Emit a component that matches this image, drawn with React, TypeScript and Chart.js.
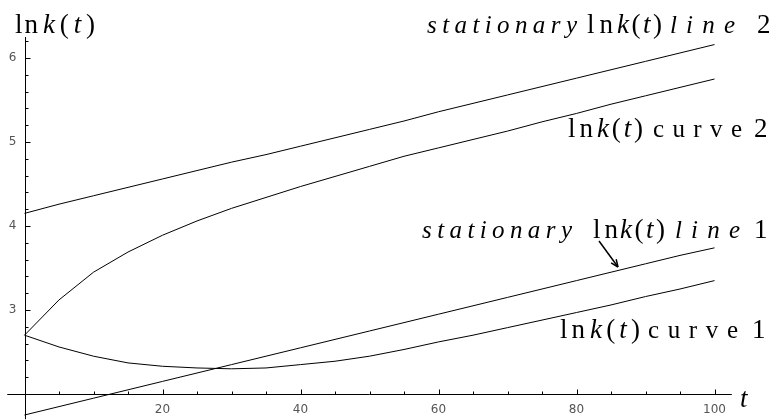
import React, { useEffect, useRef } from "react";
import { Chart, registerables } from "chart.js";

Chart.register(...registerables);

// ---- data ----
const tValues = [0, 5, 10, 15, 20, 25, 30, 35, 40, 45, 50, 55, 60, 65, 70, 75, 80, 85, 90, 95, 100];
const stationaryLine2 = [4.15, 4.26, 4.36, 4.46, 4.56, 4.66, 4.76, 4.85, 4.95, 5.05, 5.15, 5.25, 5.36, 5.46, 5.56, 5.66, 5.76, 5.86, 5.96, 6.06, 6.16];
const curve2 = [2.7, 3.12, 3.45, 3.69, 3.89, 4.06, 4.21, 4.34, 4.47, 4.59, 4.71, 4.83, 4.93, 5.03, 5.13, 5.24, 5.34, 5.45, 5.55, 5.65, 5.75];
const stationaryLine1 = [1.75, 1.85, 1.95, 2.05, 2.15, 2.25, 2.35, 2.45, 2.55, 2.65, 2.75, 2.85, 2.95, 3.05, 3.15, 3.25, 3.35, 3.45, 3.55, 3.65, 3.74];
const curve1 = [2.7, 2.56, 2.45, 2.37, 2.33, 2.31, 2.3, 2.31, 2.35, 2.39, 2.45, 2.53, 2.62, 2.7, 2.79, 2.88, 2.97, 3.06, 3.16, 3.25, 3.35];

const xMajorTicks = [20, 40, 60, 80, 100];
const xMinorTicks = [5, 10, 15, 25, 30, 35, 45, 50, 55, 65, 70, 75, 85, 90, 95];
const yMajorTicks = [3, 4, 5, 6];
const yMinorTicks = [2.2, 2.4, 2.6, 2.8, 3.2, 3.4, 3.6, 3.8, 4.2, 4.4, 4.6, 4.8, 5.2, 5.4, 5.6, 5.8, 6.2];

const SERIF = '"Liberation Serif", "Times New Roman", serif';
const UP = `27px ${SERIF}`;
const IT = `italic 27px ${SERIF}`;
const IT_WORD = `italic 25px ${SERIF}`;
const UP_WORD = `25px ${SERIF}`;

type Part = { t: string; f: string };

function drawParts(ctx: CanvasRenderingContext2D, parts: Part[], x0: number, x1: number, baseline: number) {
  const chars: Part[] = [];
  parts.forEach((p) => {
    for (const ch of p.t) chars.push({ t: ch, f: p.f });
  });
  let natural = 0;
  const widths = chars.map((c) => {
    ctx.font = c.f;
    const w = ctx.measureText(c.t).width;
    natural += w;
    return w;
  });
  const sp = chars.length > 1 ? (x1 - x0 - natural) / (chars.length - 1) : 0;
  let x = x0;
  chars.forEach((c, i) => {
    ctx.font = c.f;
    ctx.fillText(c.t, x, baseline);
    x += widths[i] + sp;
  });
}

const ln = (): Part[] => [{ t: "ln", f: UP }];
const kt = (): Part[] => [
  { t: "k", f: IT },
  { t: "(", f: UP },
  { t: "t", f: IT },
  { t: ")", f: UP },
];

const overlayPlugin = {
  id: "overlay",
  afterDraw(chart: any) {
    const ctx: CanvasRenderingContext2D = chart.ctx;
    const xs = chart.scales.x;
    const ys = chart.scales.y;
    const X = (v: number) => xs.getPixelForValue(v);
    const Y = (v: number) => ys.getPixelForValue(v);
    ctx.save();
    ctx.strokeStyle = "#000";
    ctx.lineWidth = 1;
    // x axis at y = 2
    const ay = Math.round(Y(2)) + 0.5;
    ctx.beginPath();
    ctx.moveTo(X(-2.5), ay);
    ctx.lineTo(X(102.5), ay);
    ctx.stroke();
    // y axis at x = 0
    const ax = Math.round(X(0)) + 0.5;
    ctx.beginPath();
    ctx.moveTo(ax, Y(1.7));
    ctx.lineTo(ax, Y(6.25));
    ctx.stroke();
    // ticks
    ctx.beginPath();
    xMajorTicks.forEach((t) => {
      const px = Math.round(X(t)) + 0.5;
      ctx.moveTo(px, ay);
      ctx.lineTo(px, ay - 5);
    });
    xMinorTicks.forEach((t) => {
      const px = Math.round(X(t)) + 0.5;
      ctx.moveTo(px, ay);
      ctx.lineTo(px, ay - 3);
    });
    yMajorTicks.forEach((v) => {
      const py = Math.round(Y(v)) + 0.5;
      ctx.moveTo(ax, py);
      ctx.lineTo(ax + 5, py);
    });
    yMinorTicks.forEach((v) => {
      const py = Math.round(Y(v)) + 0.5;
      ctx.moveTo(ax, py);
      ctx.lineTo(ax + 3, py);
    });
    ctx.stroke();
    // tick labels
    ctx.fillStyle = "#555";
    ctx.font = '12px "DejaVu Sans", sans-serif';
    ctx.textAlign = "center";
    ctx.textBaseline = "middle";
    xMajorTicks.forEach((t) => ctx.fillText(String(t), X(t), ay + 15));
    ctx.textAlign = "right";
    yMajorTicks.forEach((v) => ctx.fillText(String(v), ax - 9, Y(v)));

    // axis labels
    ctx.fillStyle = "#000";
    ctx.textAlign = "left";
    ctx.textBaseline = "alphabetic";
    drawParts(ctx, ln(), 15, 38, 33);
    drawParts(ctx, kt(), 43, 95, 33);
    ctx.font = IT;
    ctx.fillText("t", 740, 407);

    // annotations
    // stationary line 2
    drawParts(ctx, [{ t: "stationary", f: IT_WORD }], 427, 577, 33);
    drawParts(ctx, ln(), 587, 613, 33);
    drawParts(ctx, kt(), 617, 662, 33);
    drawParts(ctx, [{ t: "line", f: IT_WORD }], 670, 735, 33);
    ctx.font = UP;
    ctx.fillText("2", 757, 33);
    // curve 2
    drawParts(ctx, ln(), 568, 593, 137);
    drawParts(ctx, kt(), 597, 643, 137);
    drawParts(ctx, [{ t: "curve", f: UP_WORD }], 653, 742, 137);
    ctx.font = UP;
    ctx.fillText("2", 754, 137);
    // stationary line 1
    drawParts(ctx, [{ t: "stationary", f: IT_WORD }], 422, 572, 238);
    drawParts(ctx, ln(), 593, 618, 238);
    drawParts(ctx, kt(), 620, 665, 238);
    drawParts(ctx, [{ t: "line", f: IT_WORD }], 675, 740, 238);
    ctx.font = UP;
    ctx.fillText("1", 754, 238);
    // curve 1
    drawParts(ctx, ln(), 560, 585, 338);
    drawParts(ctx, kt(), 590, 640, 338);
    drawParts(ctx, [{ t: "curve", f: UP_WORD }], 648, 738, 338);
    ctx.font = UP;
    ctx.fillText("1", 752, 338);

    // arrow
    const sx = 599, sy = 241, ex = 618, ey = 267;
    ctx.lineWidth = 1.5;
    ctx.beginPath();
    ctx.moveTo(sx, sy);
    ctx.lineTo(ex, ey);
    ctx.stroke();
    const ang = Math.atan2(ey - sy, ex - sx);
    const hl = 8;
    ctx.beginPath();
    ctx.moveTo(ex, ey);
    ctx.lineTo(ex - hl * Math.cos(ang - 0.4), ey - hl * Math.sin(ang - 0.4));
    ctx.moveTo(ex, ey);
    ctx.lineTo(ex - hl * Math.cos(ang + 0.4), ey - hl * Math.sin(ang + 0.4));
    ctx.stroke();
    ctx.restore();
  },
};

export default function App() {
  const ref = useRef<HTMLCanvasElement | null>(null);
  useEffect(() => {
    if (!ref.current) return;
    const mk = (vals: number[]) => tValues.map((t, i) => ({ x: t, y: vals[i] }));
    const ds = (label: string, vals: number[]) => ({
      label,
      data: mk(vals),
      borderColor: "#000",
      borderWidth: 1,
      pointRadius: 0,
      tension: 0,
      fill: false,
    });
    const chart = new Chart(ref.current, {
      type: "line",
      data: {
        datasets: [
          ds("stationary ln k(t) line 2", stationaryLine2),
          ds("ln k(t) curve 2", curve2),
          ds("stationary ln k(t) line 1", stationaryLine1),
          ds("ln k(t) curve 1", curve1),
        ],
      },
      options: {
        animation: false,
        responsive: false,
        layout: { padding: { left: 7.25, right: 40.25, top: 37, bottom: 0.8 } },
        plugins: { legend: { display: false }, tooltip: { enabled: false } },
        scales: {
          x: { type: "linear", min: -2.5, max: 102.5, display: false },
          y: { type: "linear", min: 1.7, max: 6.25, display: false },
        },
      },
      plugins: [overlayPlugin],
    });
    let alive = true;
    Promise.all([
      document.fonts.load(UP),
      document.fonts.load(IT),
      document.fonts.load(IT_WORD),
      document.fonts.load('12px "DejaVu Sans"'),
    ])
      .catch(() => null)
      .then(() => {
        if (alive) chart.draw();
      });
    return () => {
      alive = false;
      chart.destroy();
    };
  }, []);
  return (
    <div style={{ position: "fixed", left: 0, top: 0, width: 772, height: 420, background: "#fff" }}>
      <canvas ref={ref} width={772} height={420} style={{ display: "block" }} />
    </div>
  );
}
